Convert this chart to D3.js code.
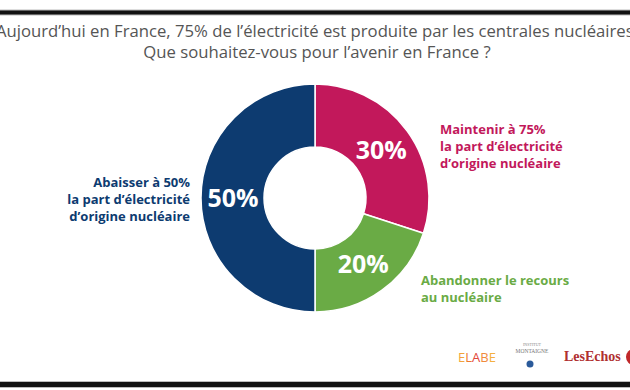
<!DOCTYPE html>
<html><head><meta charset="utf-8">
<script src="https://cdn.jsdelivr.net/npm/d3@7"></script>
<style>body{margin:0;background:#fff}svg{display:block}</style>
</head><body>
<svg id="c" width="630" height="390"></svg>
<script>
const categories = ["Maintenir à 75%", "Abandonner le recours", "Abaisser à 50%"];
const values = [30, 20, 50];
const pctLabels = ["30%", "20%", "50%"];
const labelLines = [
  ["Maintenir à 75%", "la part d’électricité", "d’origine nucléaire"],
  ["Abandonner le recours", "au nucléaire"],
  ["Abaisser à 50%", "la part d’électricité", "d’origine nucléaire"]
];
const colors = ["#c2185b", "#6aab45", "#0d3b70"];
const titleLines = [
  "Aujourd’hui en France, 75% de l’électricité est produite par les centrales nucléaires.",
  "Que souhaitez-vous pour l’avenir en France ?"
];

const svg = d3.select("#c");
const font = "'Open Sans', 'DejaVu Sans', sans-serif";

// frame lines
[[12.5, 4], [384.5, 5]].forEach(([y, w]) => {
  svg.append("line").attr("x1", 0).attr("x2", 630).attr("y1", y).attr("y2", y)
    .attr("stroke", "#bbb").attr("stroke-width", w + 2);
  svg.append("line").attr("x1", 0).attr("x2", 630).attr("y1", y).attr("y2", y)
    .attr("stroke", "#111").attr("stroke-width", w);
});

// title
svg.selectAll("text.title").data(titleLines).join("text")
  .attr("class", "title")
  .attr("x", 317).attr("y", (d, i) => 37 + i * 21)
  .attr("text-anchor", "middle")
  .attr("font-family", font).attr("font-size", 16.7)
  .attr("fill", "#555")
  .text(d => d);

const cx = 315, cy = 198, rOut = 114, rIn = 51;
const g = svg.append("g").attr("transform", `translate(${cx},${cy})`);
const pie = d3.pie().sort(null).value(d => d)(values);
const arc = d3.arc().innerRadius(rIn).outerRadius(rOut);
g.selectAll("path").data(pie).join("path")
  .attr("d", arc).attr("fill", (d, i) => colors[i])
  .attr("stroke", "#fff").attr("stroke-width", 1.5);

const labelArc = d3.arc().innerRadius(82).outerRadius(82);
g.selectAll("text.pct").data(pie).join("text")
  .attr("class", "pct")
  .attr("transform", d => { const c = labelArc.centroid(d); return `translate(${c[0]},${c[1]})`; })
  .attr("text-anchor", "middle").attr("dy", "0.36em")
  .attr("font-family", font).attr("font-weight", "bold").attr("font-size", 25)
  .attr("fill", "#fff")
  .text((d, i) => pctLabels[i]);

// category labels
const labelPos = [
  {x: 440, y: 134, anchor: "start"},
  {x: 421, y: 285, anchor: "start"},
  {x: 190, y: 187, anchor: "end"}
];
labelLines.forEach((lines, i) => {
  const t = svg.append("text")
    .attr("font-family", font).attr("font-weight", "bold").attr("font-size", 13)
    .attr("fill", colors[i]).attr("text-anchor", labelPos[i].anchor);
  lines.forEach((l, j) => t.append("tspan").attr("x", labelPos[i].x)
    .attr("y", labelPos[i].y + j * 17).text(l));
});

// logos
const elabe = svg.append("text").attr("x", 458).attr("y", 362).attr("font-family", font)
  .attr("font-size", 13);
[["E", "#f2a33a"], ["L", "#ee7a30"], ["A", "#e2483a"], ["B", "#f08a3c"], ["E", "#f4b040"]]
  .forEach(([ch, c]) => elabe.append("tspan").attr("fill", c).text(ch));
svg.append("text").attr("x", 532).attr("y", 346).attr("text-anchor", "middle")
  .attr("font-family", "'Liberation Serif', serif").attr("font-size", 4).attr("fill", "#888").text("INSTITUT");
svg.append("text").attr("x", 532).attr("y", 353).attr("text-anchor", "middle")
  .attr("font-family", "'Liberation Serif', serif").attr("font-size", 5.5).attr("fill", "#777").text("MONTAIGNE");
svg.append("circle").attr("cx", 530).attr("cy", 364).attr("r", 3.5).attr("fill", "#2a5a9a");
svg.append("text").attr("x", 564).attr("y", 361).attr("font-family", "'Liberation Serif', serif")
  .attr("font-weight", "bold").attr("font-size", 14).attr("fill", "#b03030").text("LesEchos");
svg.append("circle").attr("cx", 634).attr("cy", 357).attr("r", 8).attr("fill", "#c0282a");
</script>
</body></html>
